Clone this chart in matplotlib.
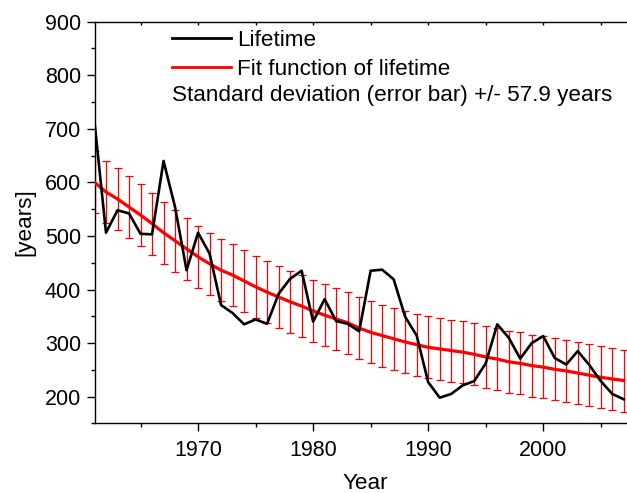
import numpy as np
import matplotlib
matplotlib.use("Agg")
import matplotlib.pyplot as plt
from matplotlib.lines import Line2D
from matplotlib.ticker import MultipleLocator

plt.rcParams['font.family'] = ['Liberation Sans', 'DejaVu Sans']

years = list(range(1961, 2008))
lifetime = [713, 506, 548, 542, 504, 503, 640, 554, 436, 506,
            467, 371, 356, 335, 344, 336, 392, 420, 435, 340,
            382, 341, 336, 322, 435, 437, 419, 349, 314, 227,
            198, 205, 221, 229, 262, 335, 310, 271, 300, 313,
            272, 260, 285, 259, 229, 205, 195]
fit = [600, 582, 569, 554, 539, 523, 506, 491, 476, 461,
       448, 436, 427, 416, 405, 395, 386, 377, 369, 360,
       352, 345, 338, 328, 320, 314, 308, 302, 297, 292,
       289, 286, 283, 279, 274, 270, 265, 262, 258, 255,
       251, 248, 244, 240, 236, 233, 230]
std_dev = 57.9
legend_labels = ["Lifetime", "Fit function of lifetime"]
note = "Standard deviation (error bar) +/- 57.9 years"

FS = 15.5
LFS = 16.2
W, H = 627, 493
fig = plt.figure(figsize=(W / 100, H / 100), dpi=100)
ax = fig.add_axes([94.5 / W, (H - 423.4) / H, 540.8 / W, (423.4 - 21.7) / H])

ax.errorbar(years, fit, yerr=std_dev, fmt='none', ecolor='red',
            elinewidth=0.9, capsize=2.9, capthick=0.9, zorder=2)
ax.plot(years, fit, color='red', lw=2.3, zorder=3)
ax.plot(years, lifetime, color='black', lw=1.9, zorder=4)

ax.set_xlim(1961, 2008)
ax.set_ylim(150, 900)
ax.xaxis.set_major_locator(MultipleLocator(10))
ax.xaxis.set_minor_locator(MultipleLocator(5))
ax.yaxis.set_major_locator(MultipleLocator(100))
ax.yaxis.set_minor_locator(MultipleLocator(50))
ax.set_yticks([200, 300, 400, 500, 600, 700, 800, 900])
ax.set_xticks([1970, 1980, 1990, 2000])

ax.tick_params(axis='both', which='major', direction='out', length=5.8, width=1,
               labelsize=FS, color='black')
ax.tick_params(axis='both', which='minor', direction='out', length=3.2, width=1)
ax.tick_params(axis='y', which='major', pad=4)
ax.tick_params(axis='x', which='major', pad=6.5)
ax.xaxis.set_tick_params(which='both', top=True)
for t in ax.xaxis.get_major_ticks() + ax.xaxis.get_minor_ticks():
    t.tick2line.set_marker(3)  # tick pointing down (inward)
    t.tick2line.set_markersize(2)

for s in ax.spines.values():
    s.set_linewidth(1)
ax.spines['right'].set_visible(False)

ax.set_xlabel("Year", fontsize=LFS, labelpad=8.5)
ax.set_ylabel("[years]", fontsize=LFS, labelpad=7)

handles = [Line2D([], [], color='black', lw=2.0), Line2D([], [], color='red', lw=2.0)]
leg = ax.legend(handles, legend_labels, loc='upper left',
                bbox_to_anchor=(172 / W, 1 - 30 / H), bbox_transform=fig.transFigure,
                frameon=False, fontsize=LFS, handlelength=2.6, handletextpad=0.28,
                borderpad=0, borderaxespad=0, labelspacing=0.36)
fig.text(172 / W, 1 - 101 / H, note, fontsize=LFS, va='baseline', ha='left')

fig.savefig("out.png", dpi=100)
